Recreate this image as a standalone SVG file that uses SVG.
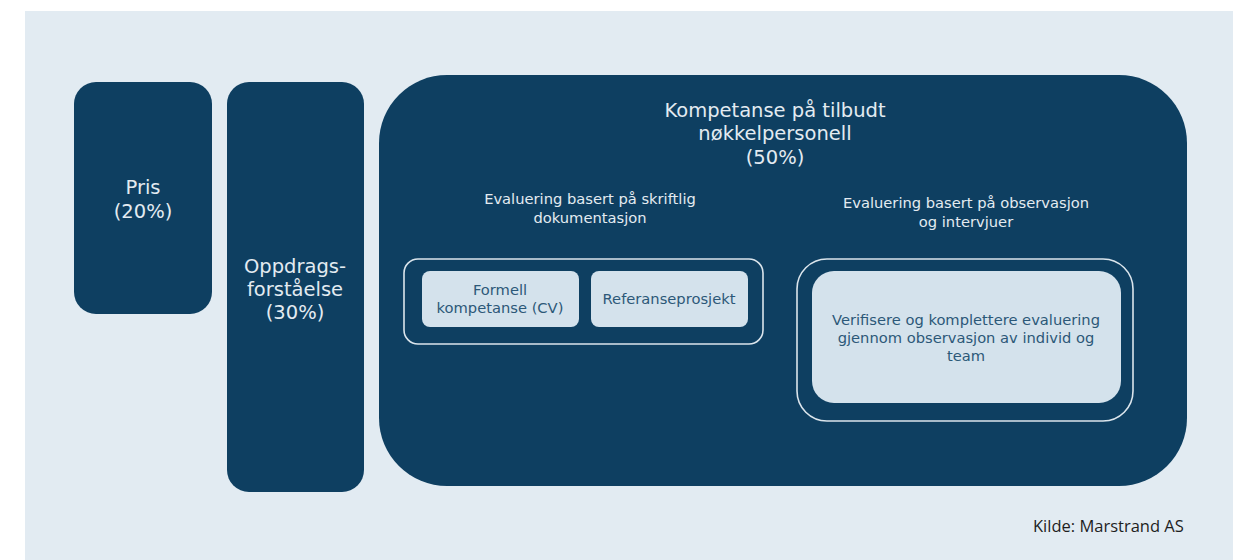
<svg xmlns="http://www.w3.org/2000/svg" width="1239" height="560" viewBox="0 0 1239 560">
  <style>
    .panel { fill: #e2ebf2; }
    .dark { fill: #0e3f61; }
    .frame { fill: none; stroke: #dbe5ec; stroke-width: 1.6; }
    .light { fill: #d4e2ec; }
    .t-main { font-family: "DejaVu Sans", Verdana, sans-serif; font-size: 19.5px; fill: #e3ebf1; text-anchor: middle; }
    .t-sub { font-family: "DejaVu Sans", Verdana, sans-serif; font-size: 14.7px; fill: #e3ebf1; text-anchor: middle; }
    .t-box { font-family: "DejaVu Sans", Verdana, sans-serif; font-size: 14.7px; fill: #2c5878; text-anchor: middle; }
    .t-src { font-family: "Open Sans", "Liberation Sans", sans-serif; font-size: 16.5px; fill: #1e1e1e; }
  </style>

  <rect x="0" y="0" width="1239" height="560" fill="#ffffff"/>
  <rect class="panel" x="25" y="11" width="1208" height="549"/>

  <g id="pris">
    <rect class="dark" x="74" y="82" width="138" height="232" rx="22"/>
    <text class="t-main" x="143" y="194">Pris</text>
    <text class="t-main" x="143" y="218">(20%)</text>
  </g>

  <g id="oppdrag">
    <rect class="dark" x="227" y="82" width="137" height="410" rx="22"/>
    <text class="t-main" x="295" y="273">Oppdrags-</text>
    <text class="t-main" x="295" y="296">forståelse</text>
    <text class="t-main" x="295" y="319">(30%)</text>
  </g>

  <g id="kompetanse">
    <rect class="dark" x="379" y="75" width="808" height="411" rx="68"/>
    <text class="t-main" x="775" y="117">Kompetanse på tilbudt</text>
    <text class="t-main" x="775" y="140">nøkkelpersonell</text>
    <text class="t-main" x="775" y="164">(50%)</text>
  </g>

  <g id="skriftlig">
    <text class="t-sub" x="590" y="204">Evaluering basert på skriftlig</text>
    <text class="t-sub" x="590" y="223">dokumentasjon</text>
    <rect class="frame" x="404" y="259" width="359" height="85" rx="14"/>
  </g>

  <g id="formell">
    <rect class="light" x="422" y="271" width="157" height="56" rx="8"/>
    <text class="t-box" x="500" y="295">Formell</text>
    <text class="t-box" x="500" y="313">kompetanse (CV)</text>
  </g>

  <g id="referanse">
    <rect class="light" x="591" y="271" width="157" height="56" rx="8"/>
    <text class="t-box" x="669" y="304">Referanseprosjekt</text>
  </g>

  <g id="observasjon">
    <text class="t-sub" x="966" y="208">Evaluering basert på observasjon</text>
    <text class="t-sub" x="966" y="227">og intervjuer</text>
    <rect class="frame" x="797" y="259" width="336" height="162" rx="30"/>
  </g>

  <g id="verifisere">
    <rect class="light" x="812" y="271" width="309" height="132" rx="22"/>
    <text class="t-box" x="966" y="325">Verifisere og komplettere evaluering</text>
    <text class="t-box" x="966" y="343">gjennom observasjon av individ og</text>
    <text class="t-box" x="966" y="361">team</text>
  </g>

  <g id="connectors"/>

  <text class="t-src" x="1033" y="532">Kilde: Marstrand AS</text>
</svg>
